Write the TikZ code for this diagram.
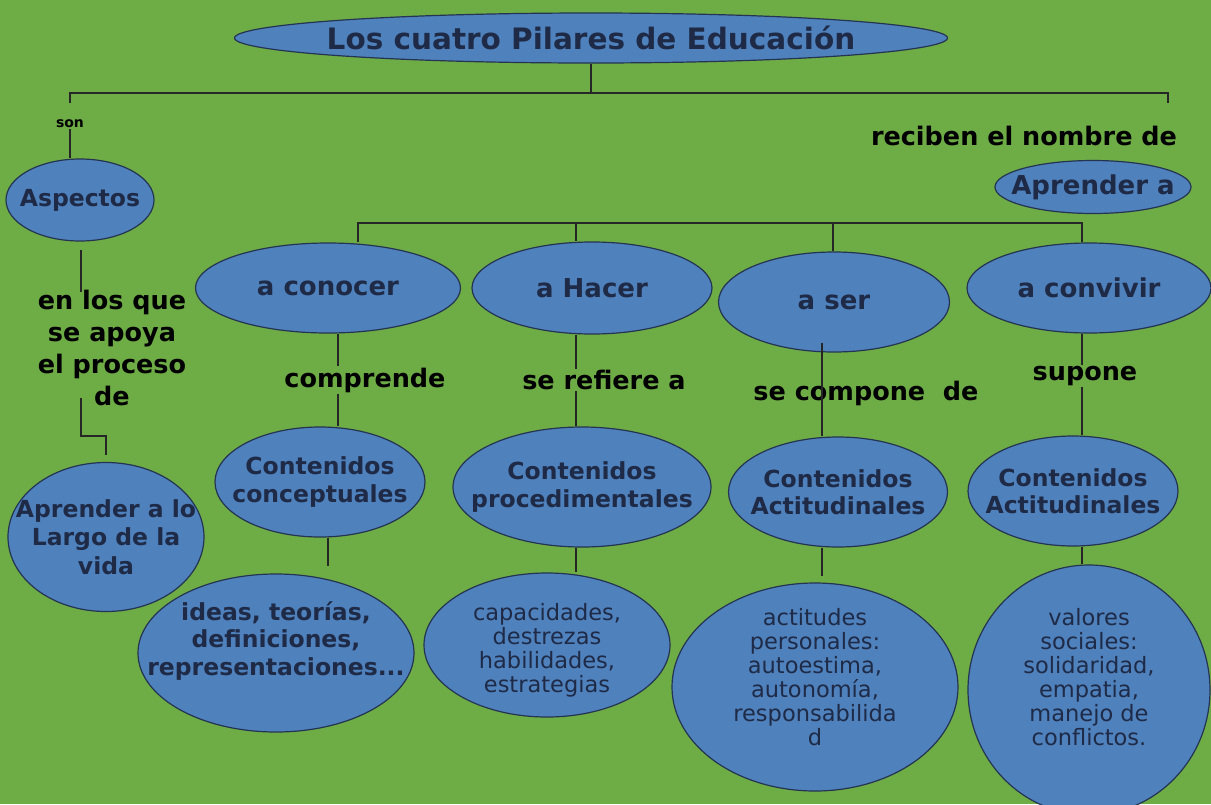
\documentclass[tikz,border=0pt]{standalone}
\usepackage{fontspec}
\setmainfont{DejaVu Sans}
\usepackage{tikz}
\usetikzlibrary{shapes.geometric}

\definecolor{fondo}{RGB}{110,172,70}
\definecolor{azul}{RGB}{79,129,189}
\definecolor{borde}{RGB}{36,52,82}
\definecolor{tinta}{RGB}{30,42,70}

\begin{document}
\begin{tikzpicture}[x=1pt,y=-1pt,
  pilar/.style={ellipse, draw=borde, fill=azul, line width=1.2pt, inner sep=-90pt,
    text=tinta, align=center, font=\bfseries\fontsize{23.5}{27.5}\selectfont},
  grande/.style={pilar, font=\bfseries\fontsize{26}{30}\selectfont},
  nota/.style={pilar, font=\fontsize{22.5}{24}\selectfont},
  enlace/.style={font=\bfseries\fontsize{25.5}{32}\selectfont, align=center, inner sep=1pt},
  linea/.style={draw=black!85, line width=1.2pt}]

  % Background
  \fill[fondo] (0,0) rectangle (1211,804);
  \useasboundingbox (0,0) rectangle (1211,804);

  % Title and left branch
  \node[pilar, minimum width=713, minimum height=50,
    font=\bfseries\fontsize{29.5}{32}\selectfont] (tit) at (591,38) {Los cuatro Pilares de Educación};
  \node[font=\bfseries\fontsize{14}{16}\selectfont, inner sep=1pt] (son) at (70,124) {son};
  \node[pilar, minimum width=148, minimum height=82] (asp) at (80,200) {Aspectos};
  \node[enlace] (apoyo) at (112,348) {en los que\\se apoya\\el proceso\\de};
  \node[pilar, minimum width=196, minimum height=149, font=\bfseries\fontsize{23.5}{28.5}\selectfont]
    (largo) at (106,537) {Aprender a lo\\Largo de la\\vida};

  % Right branch
  \node[enlace] (nombre) at (1024,136) {reciben el nombre de};
  \node[grande, minimum width=196, minimum height=53] (aprender) at (1093,187) {Aprender a};

  % The four pillars
  \node[grande, minimum width=265, minimum height=90] (conocer) at (328,288) {a conocer};
  \node[grande, minimum width=240, minimum height=92] (hacer) at (592,288) {a Hacer};
  \node[grande, minimum width=231, minimum height=100] (ser) at (834,302) {a ser};
  \node[grande, minimum width=244, minimum height=90] (convivir) at (1089,288) {a convivir};

  % Linking words
  \node[enlace] (comprende) at (365,380) {comprende};
  \node[enlace] (refiere) at (604,380) {se refiere a};
  \node[enlace] (compone) at (866,393) {se compone\ \ de};
  \node[enlace] (supone) at (1085,376) {supone};

  % Contents
  \node[pilar, minimum width=210, minimum height=110] (concep) at (320,482) {Contenidos\\conceptuales};
  \node[pilar, minimum width=258, minimum height=120] (proced) at (582,487) {Contenidos\\procedimentales};
  \node[pilar, minimum width=219, minimum height=110] (actit) at (838,492) {Contenidos\\Actitudinales};
  \node[pilar, minimum width=210, minimum height=110] (actit2) at (1073,491) {Contenidos\\Actitudinales};

  % Examples
  \node[pilar, minimum width=276, minimum height=158] (ideas) at (276,653) {ideas, teorías,\\definiciones,\\representaciones...\\[2pt]};
  \node[nota, minimum width=246, minimum height=144] (capac) at (547,645) {\rule{0pt}{27pt}capacidades,\\destrezas\\habilidades,\\estrategias};
  \node[nota, minimum width=286, minimum height=208] (personal) at (815,687) {actitudes\\personales:\\autoestima,\\autonomía,\\responsabilida\\d\\[-4pt]};
  \node[nota, minimum width=242, minimum height=250] (social) at (1089,690) {valores\\sociales:\\solidaridad,\\empatia,\\manejo de\\conflictos.\\[2pt]};

  % Top bus
  \coordinate (busA) at (70,103);
  \coordinate (busB) at (1168,103);
  \draw[linea] (tit.south) -- ++(0,30);
  \draw[linea] (busA) -- ++(0,-10) -| (busB);
  \draw[linea] (son.south) -- (son.south |- asp.north);

  % Aspectos -> Aprender a lo largo de la vida
  \coordinate (apA) at (81,250);
  \coordinate (apB) at (81,398);
  \draw[linea] (apA) -- ++(0,42);
  \draw[linea] (apB) |- ([yshift=26pt]largo.north) -- ([yshift=7pt]largo.north);

  % Pillar bus
  \coordinate (b1) at (358,223);
  \coordinate (b2) at (576,223);
  \coordinate (b3) at (833,223);
  \coordinate (b4) at (1082,223);
  \draw[linea] (b1 |- conocer.north) -- (b1) -- (b4) -- (b4 |- convivir.north);
  \draw[linea] (b2) -- (b2 |- hacer.north);
  \draw[linea] (b3) -- (b3 |- ser.north);

  % a conocer
  \coordinate (c1) at (338,0);
  \coordinate (c1b) at (328,0);
  \draw[linea] (c1 |- conocer.south) -- (c1 |- comprende.north);
  \draw[linea] (c1 |- comprende.south) -- (c1 |- concep.north);
  \draw[linea] (c1b |- concep.south) -- ++(0,28);

  % a Hacer
  \coordinate (c2) at (576,0);
  \draw[linea] (c2 |- hacer.south) -- (c2 |- refiere.north);
  \draw[linea] (c2 |- refiere.south) -- (c2 |- proced.north);
  \draw[linea] (c2 |- proced.south) -- (c2 |- capac.north);

  % a ser
  \coordinate (c3) at (822,343);
  \draw[linea] (c3) -- (c3 |- actit.north);
  \draw[linea] (c3 |- actit.south) -- ++(0,28);

  % a convivir
  \coordinate (c4) at (1082,0);
  \draw[linea] (c4 |- convivir.south) -- (c4 |- supone.north);
  \draw[linea] (c4 |- supone.south) -- (c4 |- actit2.north);
  \draw[linea] (c4 |- actit2.south) -- (c4 |- social.north);
\end{tikzpicture}
\end{document}
